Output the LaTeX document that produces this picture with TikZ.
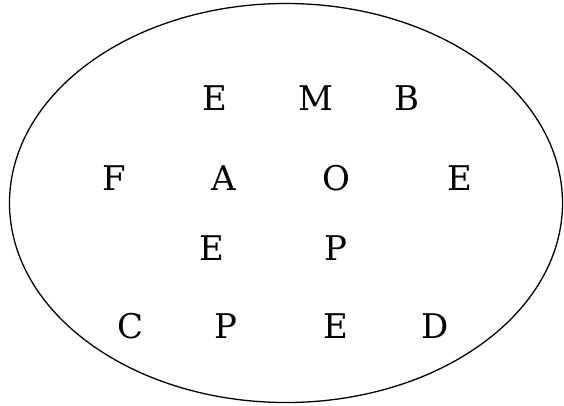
\documentclass[tikz,border=0pt]{standalone}
\usepackage{fontspec}
\setmainfont{DejaVu Serif}
\usetikzlibrary{shapes.geometric}
\tikzset{
    set region/.style={
        draw,
        ellipse,
        line width=1.3pt,
        minimum width=553pt,
        minimum height=399pt,
        inner sep=0pt
    },
    set letter/.style={
        inner sep=0pt,
        font=\fontsize{34}{38}\selectfont
    }
}
\begin{document}
\begin{tikzpicture}[x=1pt,y=-1pt]
    \useasboundingbox (0,0) rectangle (564,405);
    \node[set region] (set) at (286,203) {};

    \node[set letter] (e1) at (215,98) {E};
    \node[set letter] (m) at (316,98) {M};
    \node[set letter] (b) at (407,98) {B};

    \node[set letter] (f) at (114,178) {F};
    \node[set letter] (a) at (224,178) {A};
    \node[set letter] (o) at (336,178) {O};
    \node[set letter] (e2) at (460,178) {E};

    \node[set letter] (e3) at (212,248) {E};
    \node[set letter] (p1) at (336,248) {P};

    \node[set letter] (c) at (131,326) {C};
    \node[set letter] (p2) at (226,326) {P};
    \node[set letter] (e4) at (336,326) {E};
    \node[set letter] (d) at (435,326) {D};
\end{tikzpicture}
\end{document}
